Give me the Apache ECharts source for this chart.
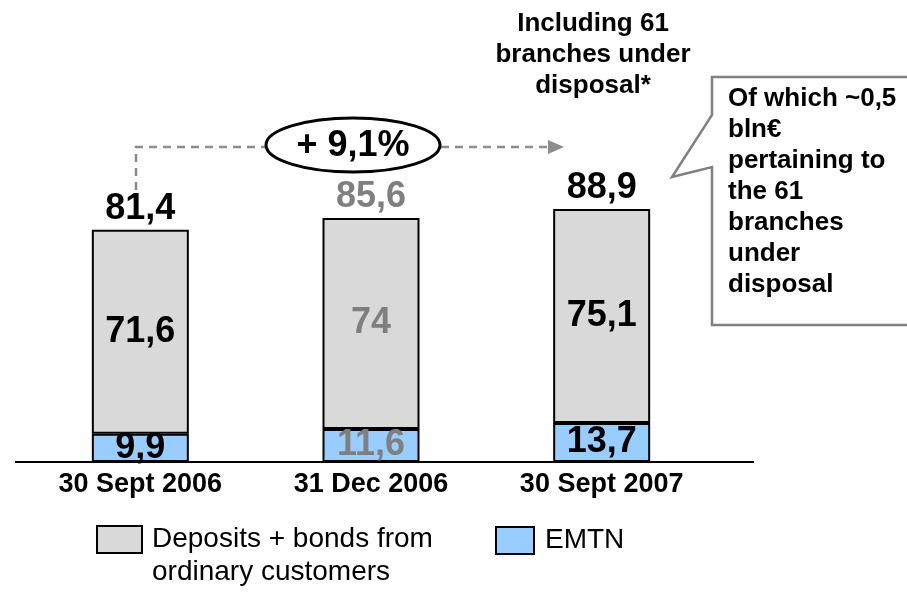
<!DOCTYPE html>
<html>
<head>
<meta charset="utf-8">
<script src="https://cdn.jsdelivr.net/npm/echarts@6/dist/echarts.min.js"></script>
<style>
  html, body { margin: 0; padding: 0; background: #fff; }
  #chart { width: 907px; height: 593px; }
</style>
</head>
<body>
<div id="chart"></div>
<script>
/* ---------------------------- data ---------------------------- */
var categories = ['30 Sept 2006', '31 Dec 2006', '30 Sept 2007'];
var emtn = [9.9, 11.6, 13.7];
var deposits = [71.6, 74, 75.1];
var totals = [81.4, 85.6, 88.9];

var depName = 'Deposits + bonds from\nordinary customers';
var emtnName = 'EMTN';

/* --------------------------- styles --------------------------- */
var FONT = '"Liberation Sans", Arial, sans-serif';
var labelInk = ['#000000', '#7f7f7f', '#000000'];

var fmt = function (v) {
  return String(v).replace('.', ',');
};

var withInk = function (arr) {
  return arr.map(function (v, i) {
    return { value: v, label: { color: labelInk[i] } };
  });
};

var valueLabel = {
  show: true,
  position: 'inside',
  fontFamily: FONT,
  fontSize: 36,
  fontWeight: 'bold',
  textBorderWidth: 0,
  formatter: function (p) { return fmt(p.value); }
};

var chartDom = document.getElementById('chart');
var myChart = echarts.init(chartDom);

var option = {
  animation: false,
  grid: {
    left: 25,
    right: 190,
    top: 177,
    bottom: 131
  },
  xAxis: {
    type: 'category',
    data: categories,
    axisLine: { show: false },
    axisTick: { show: false },
    axisLabel: {
      margin: 9,
      color: '#000',
      fontFamily: FONT,
      fontSize: 27,
      fontWeight: 'bold'
    }
  },
  yAxis: {
    type: 'value',
    min: 0,
    max: 100,
    show: false
  },
  legend: [{
    data: [depName],
    left: 96,
    top: 490,
    padding: 0,
    selectedMode: false,
    icon: 'rect',
    itemWidth: 45,
    itemHeight: 27,
    itemStyle: { borderColor: '#000', borderWidth: 2 },
    formatter: function (name) { return ' \n' + name; },
    textStyle: {
      color: '#000',
      fontFamily: FONT,
      fontSize: 28,
      lineHeight: 33,
      padding: [0, 0, 0, 5]
    }
  }, {
    data: [emtnName],
    left: 495,
    top: 526,
    padding: 0,
    selectedMode: false,
    icon: 'rect',
    itemWidth: 38,
    itemHeight: 27,
    itemStyle: { borderColor: '#000', borderWidth: 2 },
    textStyle: {
      color: '#000',
      fontFamily: FONT,
      fontSize: 28,
      padding: [0, 0, 0, 6]
    }
  }],
  series: [{
    name: emtnName,
    type: 'bar',
    stack: 'total',
    barWidth: 97,
    itemStyle: { color: '#99ccff', borderColor: '#000', borderWidth: 2 },
    label: valueLabel,
    data: withInk(emtn)
  }, {
    name: depName,
    type: 'bar',
    stack: 'total',
    barWidth: 97,
    itemStyle: { color: '#d9d9d9', borderColor: '#000', borderWidth: 2 },
    label: valueLabel,
    data: withInk(deposits)
  }, {
    name: 'total',
    type: 'line',
    silent: true,
    symbol: 'circle',
    symbolSize: 1,
    showSymbol: true,
    itemStyle: { color: 'rgba(0,0,0,0)' },
    lineStyle: { width: 0, color: 'rgba(0,0,0,0)' },
    label: {
      show: true,
      position: 'top',
      distance: 2,
      fontFamily: FONT,
      fontSize: 36,
      fontWeight: 'bold',
      formatter: function (p) { return fmt(p.value); }
    },
    z: 5,
    data: withInk(totals)
  }],
  graphic: [
    // baseline
    { type: 'line', shape: { x1: 15, y1: 462, x2: 754, y2: 462 }, style: { stroke: '#000', lineWidth: 2 } },
    // dashed growth connector
    { type: 'polyline', shape: { points: [[136, 190], [136, 147], [268, 147]] },
      style: { stroke: '#8c8c8c', lineWidth: 2.5, lineDash: [8, 6], fill: null } },
    { type: 'line', shape: { x1: 441, y1: 147, x2: 549, y2: 147 },
      style: { stroke: '#8c8c8c', lineWidth: 2.5, lineDash: [8, 6] } },
    { type: 'polygon', shape: { points: [[548, 140], [564, 147], [548, 154]] },
      style: { fill: '#8c8c8c' } },
    { type: 'ellipse', shape: { cx: 353, cy: 145, rx: 87, ry: 27 },
      style: { fill: '#fff', stroke: '#000', lineWidth: 3 } },
    { type: 'text', x: 353, y: 146,
      style: { text: '+ 9,1%', font: 'bold 36px ' + FONT, fill: '#000', align: 'center', verticalAlign: 'middle' } },
    // heading over last bar
    { type: 'text', x: 593, y: 8,
      style: { text: 'Including 61\nbranches under\ndisposal*', font: 'bold 26px ' + FONT, lineHeight: 31,
        fill: '#000', align: 'center', verticalAlign: 'top' } },
    // callout
    { type: 'polygon',
      shape: { points: [[712, 77], [912, 77], [912, 325], [712, 325], [712, 167], [672, 177], [712, 115]] },
      style: { fill: '#fff', stroke: '#808080', lineWidth: 2.5 } },
    { type: 'text', x: 728, y: 83,
      style: { text: 'Of which ~0,5\nbln€\npertaining to\nthe 61\nbranches\nunder\ndisposal',
        font: 'bold 26px ' + FONT, lineHeight: 31, fill: '#000', align: 'left', verticalAlign: 'top' } }
  ]
};

option && myChart.setOption(option);
</script>
</body>
</html>
